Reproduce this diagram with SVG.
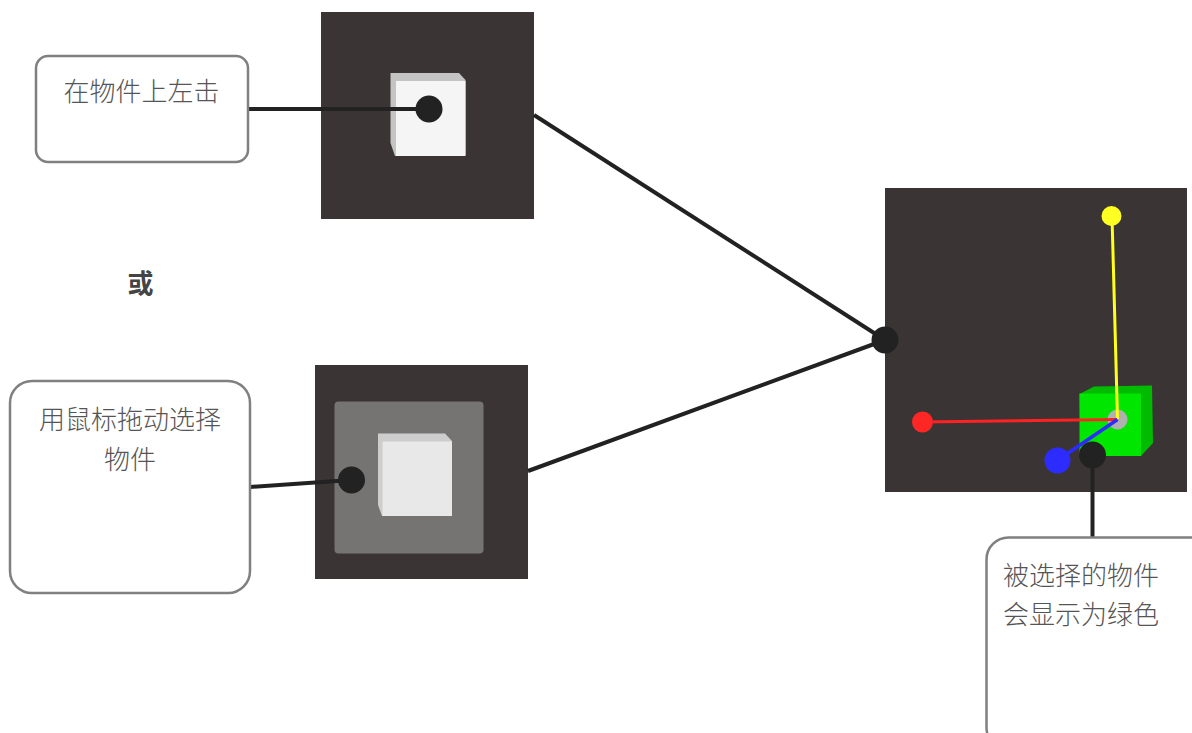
<svg xmlns="http://www.w3.org/2000/svg" width="1192" height="733" viewBox="0 0 1192 733">
<style>
.box{fill:#fff;stroke:#808080;stroke-width:2.5}
.lbl{font-family:"Noto Sans CJK SC","Liberation Serif",serif;font-size:26px;fill:#555;font-weight:300}
.panel{fill:#3a3534}
.conn{stroke:#222;stroke-width:4;fill:none}
.dot{fill:#222}
</style>
<rect width="1192" height="733" fill="#fff"/>
<g id="panel-click">
<rect class="panel" x="321" y="12" width="213" height="207"/>
<polygon points="390.500,73 459,73 465.500,80 465.500,155 395,156 390.500,143" fill="#c4c4c4"/>
<rect x="396" y="81" width="69.500" height="75" fill="#f5f5f5"/>
</g>
<g id="panel-drag">
<rect class="panel" x="315" y="365" width="213" height="214"/>
<rect x="334.500" y="401.500" width="149" height="152" rx="4" fill="#767472"/>
<polygon points="378,433.500 445,433.500 452,441 452,516 382,516 378,505" fill="#cdcdcd"/>
<rect x="382.500" y="441.500" width="69.500" height="74.500" fill="#e8e8e8"/>
</g>
<g id="panel-result">
<rect class="panel" x="885" y="188" width="302" height="304"/>
<polygon points="1079.500,394 1094,386.500 1152,385.500 1153,443 1141,456 1081,456" fill="#00bb00"/>
<rect x="1079.500" y="393.500" width="61.500" height="62.500" fill="#00e600"/>
<circle cx="1117.500" cy="419.500" r="10" fill="#b0b0b0"/>
<line x1="1112" y1="216" x2="1117.500" y2="419" stroke="#ffff1a" stroke-width="3"/>
<line x1="922" y1="422" x2="1117" y2="419.500" stroke="#ff2222" stroke-width="3"/>
<line x1="1058" y1="460" x2="1117.500" y2="419.500" stroke="#2c2cff" stroke-width="3.500"/>
<circle cx="1111.500" cy="216" r="10" fill="#ffff22"/>
<circle cx="922.500" cy="422" r="10.500" fill="#ff2626"/>
<circle cx="1057.500" cy="460.500" r="13" fill="#2c2cff"/>
</g>
<g id="connectors">
<line class="conn" x1="248" y1="109" x2="429" y2="109"/>
<line class="conn" x1="250" y1="487" x2="351" y2="480"/>
<line class="conn" x1="534" y1="115" x2="885" y2="340"/>
<line class="conn" x1="528" y1="471" x2="885" y2="340"/>
<line class="conn" x1="1092.500" y1="455" x2="1092.500" y2="537"/>
<circle class="dot" cx="429" cy="109" r="13.500"/>
<circle class="dot" cx="351.500" cy="480" r="13.500"/>
<circle class="dot" cx="885" cy="340" r="13.500"/>
<circle class="dot" cx="1092.500" cy="455" r="13.500"/>
</g>
<g id="node-click">
<rect class="box" x="36" y="56" width="212" height="106" rx="12"/>
<text class="lbl" x="141.500" y="101" text-anchor="middle">在物件上左击</text>
</g>
<g id="node-or">
<text x="140.500" y="293" text-anchor="middle" font-family="'Noto Sans CJK SC','Liberation Sans',sans-serif" font-size="26" font-weight="700" fill="#444">或</text>
</g>
<g id="node-drag">
<rect class="box" x="10" y="381" width="240" height="212" rx="22"/>
<text class="lbl" x="130" y="429" text-anchor="middle">用鼠标拖动选择</text>
<text class="lbl" x="130" y="469" text-anchor="middle">物件</text>
</g>
<g id="node-result">
<rect class="box" x="986.500" y="537.500" width="240" height="212" rx="22"/>
<text class="lbl" x="1003" y="585">被选择的物件</text>
<text class="lbl" x="1003" y="624">会显示为绿色</text>
</g>
</svg>
